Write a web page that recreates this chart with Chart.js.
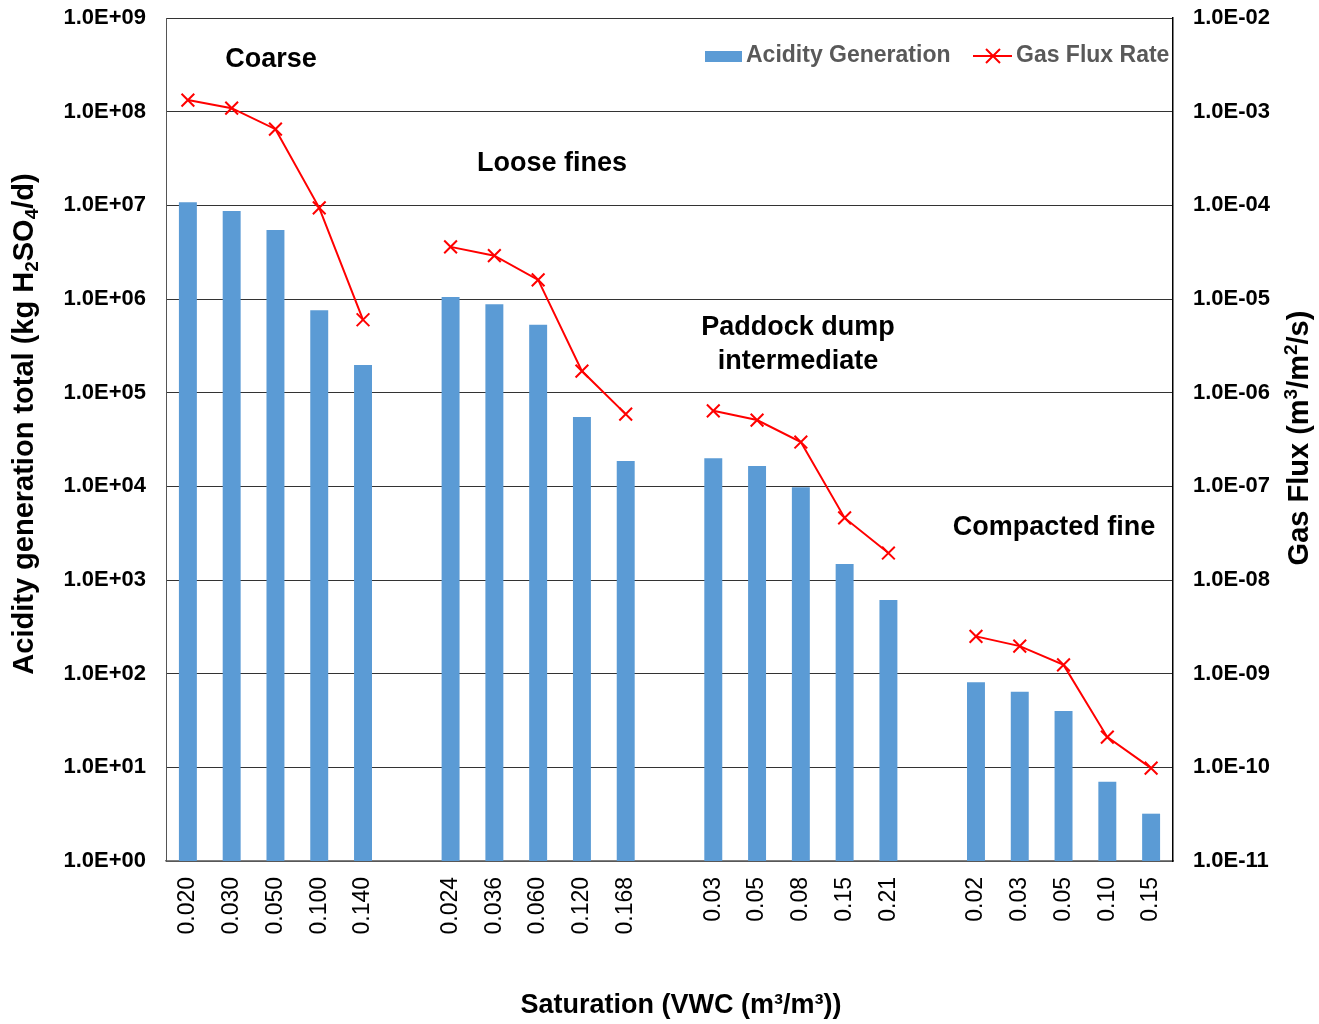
<!DOCTYPE html>
<html>
<head>
<meta charset="utf-8">
<script src="https://cdn.jsdelivr.net/npm/chart.js@4.4.1/dist/chart.umd.min.js"></script>
<style>
  html, body { margin: 0; padding: 0; background: #fff; }
  #wrap { width: 1319px; height: 1024px; }
</style>
</head>
<body>
<div id="wrap"><canvas id="graph" width="1319" height="1024"></canvas></div>
<script>
// categories (empty strings are the gaps between soil groups)
const categories = [
    '0.020', '0.030', '0.050', '0.100', '0.140', '',
    '0.024', '0.036', '0.060', '0.120', '0.168', '',
    '0.03', '0.05', '0.08', '0.15', '0.21', '',
    '0.02', '0.03', '0.05', '0.10', '0.15'
];

// kg H2SO4/d
const acidityGeneration = [
    1.08e7, 8.7e6, 5.45e6, 7.6e5, 1.97e5, null,
    1.05e6, 8.8e5, 5.3e5, 5.5e4, 1.86e4, null,
    2.0e4, 1.65e4, 9.8e3, 1.48e3, 6.1e2, null,
    81, 64, 40, 7.0, 3.2
];

// m3/m2/s
const gasFluxRate = [
    1.33e-3, 1.09e-3, 6.5e-4, 9.4e-5, 6.0e-6, null,
    3.6e-5, 2.9e-5, 1.6e-5, 1.7e-6, 5.9e-7, null,
    6.4e-7, 5.1e-7, 2.97e-7, 4.6e-8, 1.94e-8, null,
    2.5e-9, 1.97e-9, 1.24e-9, 2.1e-10, 9.8e-11
];

const leftTicks = [1e0, 1e1, 1e2, 1e3, 1e4, 1e5, 1e6, 1e7, 1e8, 1e9];
const rightTicks = [1e-11, 1e-10, 1e-9, 1e-8, 1e-7, 1e-6, 1e-5, 1e-4, 1e-3, 1e-2];

const groupLabels = [
    {lines: ['Coarse'], x: 271, y: 60},
    {lines: ['Loose fines'], x: 552, y: 164},
    {lines: ['Paddock dump', 'intermediate'], x: 798, y: 328},
    {lines: ['Compacted fine'], x: 1054, y: 528}
];

const FONT = "'Liberation Sans', Arial, sans-serif";

function sciLabel(v)
{
    let e = Math.round(Math.log10(v));
    let s = e < 0 ? '-' : '+';
    let a = Math.abs(e);
    return '1.0E' + s + (a < 10 ? '0' + a : a);
}

// draws text pieces with sub/superscripts, centred on x,y
function drawRich(ctx, parts, x, y, size, angle)
{
    ctx.save();
    ctx.translate(x, y);
    ctx.rotate(angle);
    ctx.textBaseline = 'middle';
    ctx.textAlign = 'left';
    let total = 0;
    parts.forEach(p => {
        ctx.font = 'bold ' + (p.sub || p.sup ? Math.round(size * 0.65) : size) + 'px ' + FONT;
        p.w = ctx.measureText(p.t).width;
        total += p.w;
    });
    let cx = -total / 2;
    parts.forEach(p => {
        ctx.font = 'bold ' + (p.sub || p.sup ? Math.round(size * 0.65) : size) + 'px ' + FONT;
        let dy = p.sub ? size * 0.28 : (p.sup ? -size * 0.3 : 0);
        ctx.fillStyle = '#000';
        ctx.fillText(p.t, cx, dy);
        cx += p.w;
    });
    ctx.restore();
}

const extras = {
    id: 'extras',
    afterDraw(chart) {
        const ctx = chart.ctx;

        // group names
        ctx.save();
        ctx.fillStyle = '#000';
        ctx.font = 'bold 27px ' + FONT;
        ctx.textAlign = 'center';
        ctx.textBaseline = 'middle';
        groupLabels.forEach(g => {
            g.lines.forEach((l, i) => ctx.fillText(l, g.x, g.y + i * 34));
        });
        ctx.restore();

        // axis titles
        drawRich(ctx, [{t: 'Saturation (VWC (m³/m³))'}], 681, 1006, 27, 0);
        drawRich(ctx, [
            {t: 'Acidity generation total (kg H'}, {t: '2', sub: true},
            {t: 'SO'}, {t: '4', sub: true}, {t: '/d)'}
        ], 25, 424, 29, -Math.PI / 2);
        drawRich(ctx, [
            {t: 'Gas Flux (m'}, {t: '3', sup: true}, {t: '/m'}, {t: '2', sup: true}, {t: '/s)'}
        ], 1300, 438, 29, -Math.PI / 2);

        // legend
        ctx.save();
        ctx.fillStyle = '#5B9BD5';
        ctx.fillRect(705, 51, 37, 11);
        ctx.strokeStyle = '#FF0000';
        ctx.lineWidth = 2;
        ctx.beginPath();
        ctx.moveTo(973, 56); ctx.lineTo(1012, 56);
        ctx.moveTo(986, 49); ctx.lineTo(1000, 63);
        ctx.moveTo(1000, 49); ctx.lineTo(986, 63);
        ctx.stroke();
        ctx.fillStyle = '#595959';
        ctx.font = 'bold 23px ' + FONT;
        ctx.textBaseline = 'middle';
        ctx.fillText('Acidity Generation', 746, 56);
        ctx.fillText('Gas Flux Rate', 1016, 56);
        ctx.restore();
    }
};

const ctx = document.getElementById('graph');

const myChart = new Chart(ctx, {
    data: {
        labels: categories,
        datasets: [
            {
                type: 'line',
                label: 'Gas Flux Rate',
                data: gasFluxRate,
                yAxisID: 'y1',
                borderColor: '#FF0000',
                backgroundColor: '#FF0000',
                borderWidth: 2,
                pointStyle: 'crossRot',
                pointRadius: 9,
                pointBorderWidth: 2,
                spanGaps: false,
                tension: 0
            },
            {
                type: 'bar',
                label: 'Acidity Generation',
                data: acidityGeneration,
                yAxisID: 'y',
                backgroundColor: '#5B9BD5',
                barPercentage: 0.41,
                categoryPercentage: 1.0
            }
        ]
    },
    options: {
        responsive: false,
        animation: false,
        layout: {padding: {top: 18, left: 0, right: 0, bottom: 0}},
        plugins: {
            legend: {display: false},
            tooltip: {enabled: false}
        },
        scales: {
            x: {
                grid: {display: false},
                border: {display: true, color: '#7f7f7f', width: 1.5},
                ticks: {
                    color: '#000',
                    font: {family: FONT, size: 23},
                    minRotation: 90,
                    maxRotation: 90,
                    autoSkip: false,
                    padding: 8
                },
                afterFit(scale) { scale.height = 163; }
            },
            y: {
                type: 'logarithmic',
                position: 'left',
                min: 1,
                max: 1e9,
                grid: {color: '#333', lineWidth: 1, drawTicks: false},
                border: {display: true, color: '#555', width: 1},
                ticks: {
                    color: '#000',
                    font: {family: FONT, size: 22, weight: 'bold'},
                    padding: 20,
                    callback: v => sciLabel(v)
                },
                afterBuildTicks(scale) { scale.ticks = leftTicks.map(v => ({value: v})); },
                afterFit(scale) {
                    scale.width = 166;
                    scale.paddingTop = 0;
                    scale.paddingBottom = 0;
                }
            },
            y1: {
                type: 'logarithmic',
                position: 'right',
                min: 1e-11,
                max: 1e-2,
                grid: {drawOnChartArea: false, drawTicks: false},
                border: {display: true, color: '#000', width: 1.5},
                ticks: {
                    color: '#000',
                    font: {family: FONT, size: 22, weight: 'bold'},
                    padding: 20,
                    callback: v => sciLabel(v)
                },
                afterBuildTicks(scale) { scale.ticks = rightTicks.map(v => ({value: v})); },
                afterFit(scale) {
                    scale.width = 146;
                    scale.paddingTop = 0;
                    scale.paddingBottom = 0;
                }
            }
        }
    },
    plugins: [extras]
});
</script>
</body>
</html>
